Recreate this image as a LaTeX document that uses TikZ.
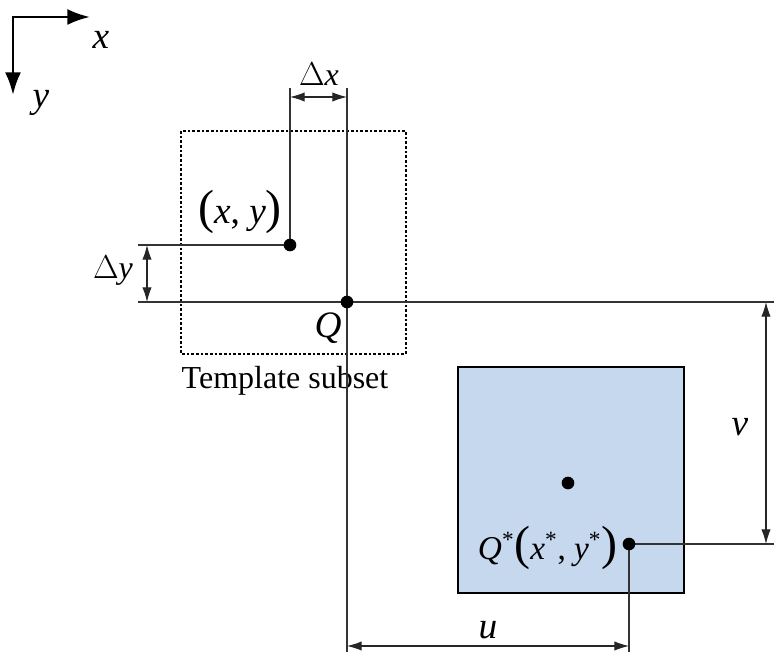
\documentclass[tikz,border=0pt]{standalone}
\usepackage{fontspec}
\setmainfont{Liberation Serif}
\usetikzlibrary{arrows,arrows.meta,positioning}
\tikzset{every picture/.style={>={Latex[length=11pt,width=7pt]}}}
\definecolor{boxblue}{RGB}{197,216,238}
\newcommand{\bigparen}[1]{{\fontsize{36}{36}\selectfont #1}}

\begin{document}
\begin{tikzpicture}[
    x=0.75pt, y=-0.75pt,
    every node/.style={font=\fontsize{24}{28}\selectfont},
    lab/.style={font=\fontsize{28}{30}\selectfont},
    guide/.style={draw=black!80, line width=0.8pt},
    dimline/.style={<->, draw=black!85, line width=0.8pt},
    dot/.style={circle, fill=black, inner sep=0pt, minimum size=9.5pt}
]
    \useasboundingbox (0,0) rectangle (774,655);

    % axes
    \coordinate (o) at (13,17);
    \coordinate (ox) at (90,17);
    \coordinate (oy) at (13,95);
    \draw[{Latex[length=17pt,width=12pt]}-{Latex[length=17pt,width=12pt]}, line width=2pt] (ox) -- (o) -- (oy);
    \node[lab] (xlab) at (101,40) {\textit{x}};
    \node[lab] (ylab) at (41,103) {\textit{y}};

    % template subset and target box
    \draw[line width=1.2pt, dash pattern=on 2pt off 1.5pt] (181,131) rectangle (406,354);
    \node (tlab) at (285,381) {Template subset};
    \draw[fill=boxblue, line width=1.2pt] (458,367) rectangle (684,593);

    % points
    \coordinate (p) at (290,245);
    \coordinate (q) at (347,302);
    \coordinate (c) at (568,483);
    \coordinate (qs) at (629,544);

    % guide lines
    \coordinate (ptop) at (290,88);
    \coordinate (qtop) at (347,88);
    \coordinate (qbot) at (347,652);
    \coordinate (qsbot) at (629,652);
    \coordinate (pleft) at (138,245);
    \coordinate (qleft) at (138,302);
    \coordinate (qright) at (774,302);
    \coordinate (qsright) at (774,544);
    \draw[guide] (ptop) -- (p) -- (pleft);
    \draw[guide] (qtop) -- (qbot);
    \draw[guide] (qleft) -- (qright);
    \draw[guide] (qsright) -- (qs) -- (qsbot);

    % dimensions
    \coordinate (dxa) at (290,97);
    \coordinate (dxb) at (347,97);
    \coordinate (dya) at (147,245);
    \coordinate (dyb) at (147,302);
    \coordinate (va) at (766,302);
    \coordinate (vb) at (766,544);
    \coordinate (ua) at (347,646);
    \coordinate (ub) at (629,646);
    \draw[dimline] (dxa) -- (dxb);
    \draw[dimline] (dya) -- (dyb);
    \draw[dimline] (va) -- (vb);
    \draw[dimline] (ua) -- (ub);
    \node (dxlab) at (319,74) {$\Delta$\textit{x}};
    \node (dylab) at (113,271) {$\Delta$\textit{y}};
    \node[lab] (vlab) at (740,427) {\textit{v}};
    \node[lab] (ulab) at (488,630) {\textit{u}};

    % dots and labels
    \node[dot] (pdot) at (p) {};
    \node[dot] (qdot) at (q) {};
    \node[dot] (cdot) at (c) {};
    \node[dot] (qsdot) at (qs) {};
    \node[lab] (plab) at (240,212) {\bigparen{(}\textit{x}, \textit{y}\bigparen{)}};
    \node[lab] (qlab) at (328,328) {\textit{Q}};
    \node[anchor=east, font=\fontsize{25}{28}\selectfont] (qslab) at (622,548)
        {\textit{Q}\textsuperscript{*}\bigparen{(}\textit{x}\textsuperscript{*}, \textit{y}\textsuperscript{*}\bigparen{)}};
\end{tikzpicture}
\end{document}
